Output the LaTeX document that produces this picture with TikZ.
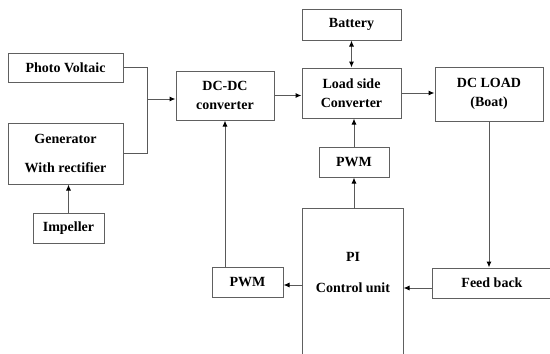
\documentclass[tikz,border=0pt]{standalone}
\usepackage{fontspec}
\setmainfont{Liberation Serif}
\usetikzlibrary{arrows.meta}

\begin{document}
\begin{tikzpicture}[x=1pt, y=-1pt, >={Latex[length=6pt,width=5pt,color=black]},
		block/.style={rectangle, draw=gray!75!black, line width=1pt, inner sep=0pt, align=center, font=\fontsize{14}{19}\selectfont\bfseries},
		link/.style={draw=gray!70!black, line width=1pt}]
		
		\useasboundingbox (0,0) rectangle (550,354);
		
		\node[block, minimum width=115pt, minimum height=29pt] (pv) at (65.5,67.5) {Photo Voltaic};
		\node[block, minimum width=115pt, minimum height=61pt] (gen) at (65.5,153.5) {Generator\\[10pt]With rectifier};
		\node[block, minimum width=71pt, minimum height=30pt] (imp) at (68.5,228) {Impeller};
		\node[block, minimum width=98pt, minimum height=49pt] (dcdc) at (225,95.5) {DC-DC\\converter};
		\node[block, minimum width=99pt, minimum height=31pt] (bat) at (351.5,24.5) {Battery};
		\node[block, minimum width=99pt, minimum height=50pt] (load) at (351.5,93) {Load side\\Converter};
		\node[block, minimum width=108pt, minimum height=54pt] (dcload) at (489,94) {DC LOAD\\(Boat)};
		\node[block, minimum width=70pt, minimum height=30pt] (pwmtop) at (354,162) {PWM};
		\node[block, minimum width=71pt, minimum height=30pt] (pwmleft) at (247.5,282) {PWM};
		\node[block, draw=none, minimum width=100pt, minimum height=126pt] (pi) at (353,272) {PI\\[12pt]Control unit};
		\node[block, minimum width=120pt, minimum height=30pt] (fb) at (492,283) {Feed back};
		\coordinate (m) at (147,99);
		
		% open box of the control unit, cut by the page edge
		\draw[link, draw=gray!75!black] ([yshift=-40pt]pi.south west) |- (pi.north east) -- ([yshift=-40pt]pi.south east);
		
		\draw[link] (pv) -| (m);
		\draw[link] (gen) -| (m);
		\draw[link, ->] (m) -- (m -| dcdc.west);
		\draw[link, ->] (imp.north) -- (imp.north |- gen.south);
		\draw[link, ->] (dcdc.east) -- (dcdc.east -| load.west);
		\draw[link, <->] (bat.south) -- (bat.south |- load.north);
		\draw[link, ->] (load.east) -- (load.east -| dcload.west);
		\draw[link, ->] (pwmtop.north) -- (pwmtop.north |- load.south);
		\draw[link, ->] (pi.north -| pwmtop.south) -- (pwmtop.south);
		\draw[link, ->] (dcload.south) -- (dcload.south |- fb.north);
		\draw[link, ->] ([yshift=-5pt]fb.west) -- ([yshift=-5pt]fb.west -| pi.east);
		\draw[link, ->] ([yshift=-3pt]pwmleft.east -| pi.west) -- ([yshift=-3pt]pwmleft.east);
		\draw[link, ->] (pwmleft.north -| dcdc.south) -- (dcdc.south);
	\end{tikzpicture}
\end{document}
